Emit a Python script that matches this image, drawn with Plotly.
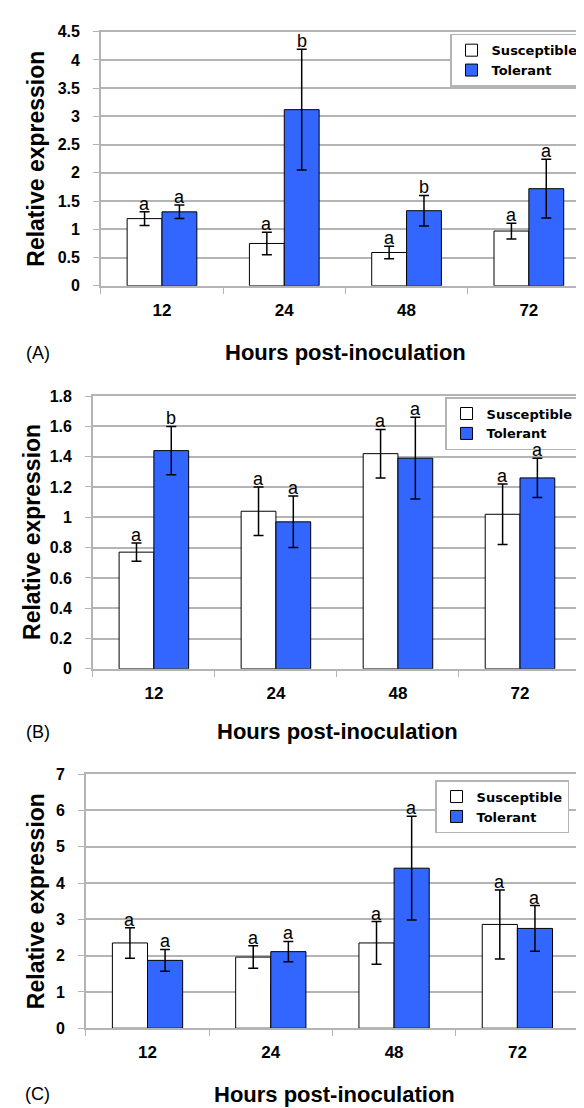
import plotly.graph_objects as go

# ---------------- data ----------------
hours = ["12", "24", "48", "72"]
series_names = ["Susceptible", "Tolerant"]

a_sus = [1.19, 0.75, 0.59, 0.97]
a_sus_err = [0.12, 0.20, 0.11, 0.14]
a_tol = [1.31, 3.12, 1.33, 1.72]
a_tol_err = [0.12, 1.07, 0.27, 0.52]
a_sus_letters = ["a", "a", "a", "a"]
a_tol_letters = ["a", "b", "b", "a"]

b_sus = [0.77, 1.04, 1.42, 1.02]
b_sus_err = [0.06, 0.16, 0.16, 0.20]
b_tol = [1.44, 0.97, 1.39, 1.26]
b_tol_err = [0.16, 0.17, 0.27, 0.13]
b_sus_letters = ["a", "a", "a", "a"]
b_tol_letters = ["b", "a", "a", "a"]

c_sus = [2.35, 1.96, 2.35, 2.86]
c_sus_err = [0.42, 0.31, 0.59, 0.95]
c_tol = [1.87, 2.11, 4.41, 2.75]
c_tol_err = [0.30, 0.28, 1.43, 0.63]
c_sus_letters = ["a", "a", "a", "a"]
c_tol_letters = ["a", "a", "a", "a"]

panel_labels = ["(A)", "(B)", "(C)"]
x_title = "Hours post-inoculation"
y_title = "Relative expression"

# ---------------- layout / style ----------------
W, H = 584, 1108
FONT = "Liberation Sans, Arial, sans-serif"
LEGFONT = "DejaVu Sans, sans-serif"
BLUE = "#3366FF"
GRID = "#b4b4b4"
BARGAP = 0.43

panels = [
    dict(sus=a_sus, sus_err=a_sus_err, tol=a_tol, tol_err=a_tol_err,
         sl=a_sus_letters, tl=a_tol_letters, yrange=[0, 4.5], dtick=0.5,
         box=(93, 583, 16, 274), legend=(577, 18), ytitle=(28, 145),
         xtitle=(338, 342), plabel=(30, 342)),
    dict(sus=b_sus, sus_err=b_sus_err, tol=b_tol, tol_err=b_tol_err,
         sl=b_sus_letters, tl=b_tol_letters, yrange=[0, 1.8], dtick=0.2,
         box=(85, 574, 386, 663), legend=(572, 387), ytitle=(24, 524),
         xtitle=(330, 727), plabel=(30, 727)),
    dict(sus=c_sus, sus_err=c_sus_err, tol=c_tol, tol_err=c_tol_err,
         sl=c_sus_letters, tl=c_tol_letters, yrange=[0, 7], dtick=1,
         box=(78, 572, 770, 1028), legend=(562, 776), ytitle=(28, 899),
         xtitle=(327, 1095), plabel=(30, 1095)),
]

fig = go.Figure()
annotations = []
layout_extra = {}

for i, p in enumerate(panels):
    n = "" if i == 0 else str(i + 1)
    xa, ya = "x" + n, "y" + n
    leg = "legend" + n
    x0, x1, y0, y1 = p["box"]

    for name, vals, errs, color in [
        (series_names[0], p["sus"], p["sus_err"], "white"),
        (series_names[1], p["tol"], p["tol_err"], BLUE),
    ]:
        fig.add_trace(go.Bar(
            x=hours, y=vals, name=name, xaxis=xa, yaxis=ya, legend=leg,
            marker=dict(color=color, line=dict(color="black", width=1)),
            error_y=dict(type="data", array=errs, visible=True,
                         color="black", thickness=1.5, width=5),
        ))

    cat_px = (x1 - x0) / len(hours)
    bar_px = cat_px * (1 - BARGAP) / 2
    for vals, errs, letters, sh in [
        (p["sus"], p["sus_err"], p["sl"], -bar_px / 2),
        (p["tol"], p["tol_err"], p["tl"], bar_px / 2),
    ]:
        for k, (v, e, L) in enumerate(zip(vals, errs, letters)):
            annotations.append(dict(
                x=k, y=v + e, xref=xa, yref=ya, text=L, showarrow=False,
                xanchor="center", yanchor="bottom", xshift=sh, yshift=-4,
                font=dict(family=FONT, size=18, color="black")))

    layout_extra["xaxis" + n] = dict(
        domain=[x0 / W, x1 / W], anchor=ya, type="category",
        categoryorder="array", categoryarray=hours,
        range=[-0.5, len(hours) - 0.5], autorange=False,
        tickson="boundaries", ticks="outside", ticklen=6, tickcolor=GRID,
        showline=True, linecolor=GRID, linewidth=1.5, mirror=True,
        showgrid=False, ticklabelstandoff=8,
        tickfont=dict(family=FONT, size=17, color="black", weight="bold"))
    layout_extra["yaxis" + n] = dict(
        domain=[1 - y1 / H, 1 - y0 / H], anchor=xa, range=p["yrange"],
        autorange=False,
        dtick=p["dtick"], tick0=0, ticks="outside", ticklen=6,
        tickcolor=GRID, showline=True, linecolor=GRID, linewidth=1.5,
        mirror=True, showgrid=True, gridcolor=GRID, gridwidth=1.5,
        zeroline=False, ticklabelstandoff=10,
        tickfont=dict(family=FONT, size=16, color="black", weight="bold"))
    lx, ly = p["legend"]
    layout_extra[leg] = dict(
        x=lx / W, y=1 - ly / H, xanchor="right", yanchor="top",
        bgcolor="white", bordercolor=GRID, borderwidth=1.5,
        itemwidth=30, tracegroupgap=0,
        font=dict(family=LEGFONT, size=13, color="black", weight="bold"))

    tx, ty = p["ytitle"]
    annotations.append(dict(
        x=tx / W, y=1 - ty / H, xref="paper", yref="paper", text=y_title,
        textangle=-90, showarrow=False, xanchor="center", yanchor="middle",
        font=dict(family=FONT, size=23, color="black", weight="bold")))
    tx, ty = p["xtitle"]
    annotations.append(dict(
        x=tx / W, y=1 - ty / H, xref="paper", yref="paper", text=x_title,
        showarrow=False, xanchor="center", yanchor="middle",
        font=dict(family=FONT, size=22, color="black", weight="bold")))
    tx, ty = p["plabel"]
    annotations.append(dict(
        x=tx / W, y=1 - ty / H, xref="paper", yref="paper",
        text=panel_labels[i], showarrow=False, xanchor="center",
        yanchor="middle", font=dict(family=FONT, size=18, color="black")))

fig.update_layout(
    width=W, height=H, margin=dict(l=0, r=0, t=0, b=0),
    paper_bgcolor="white", plot_bgcolor="white",
    barmode="group", bargap=BARGAP, bargroupgap=0,
    annotations=annotations, **layout_extra)

fig.write_html("out.html")
